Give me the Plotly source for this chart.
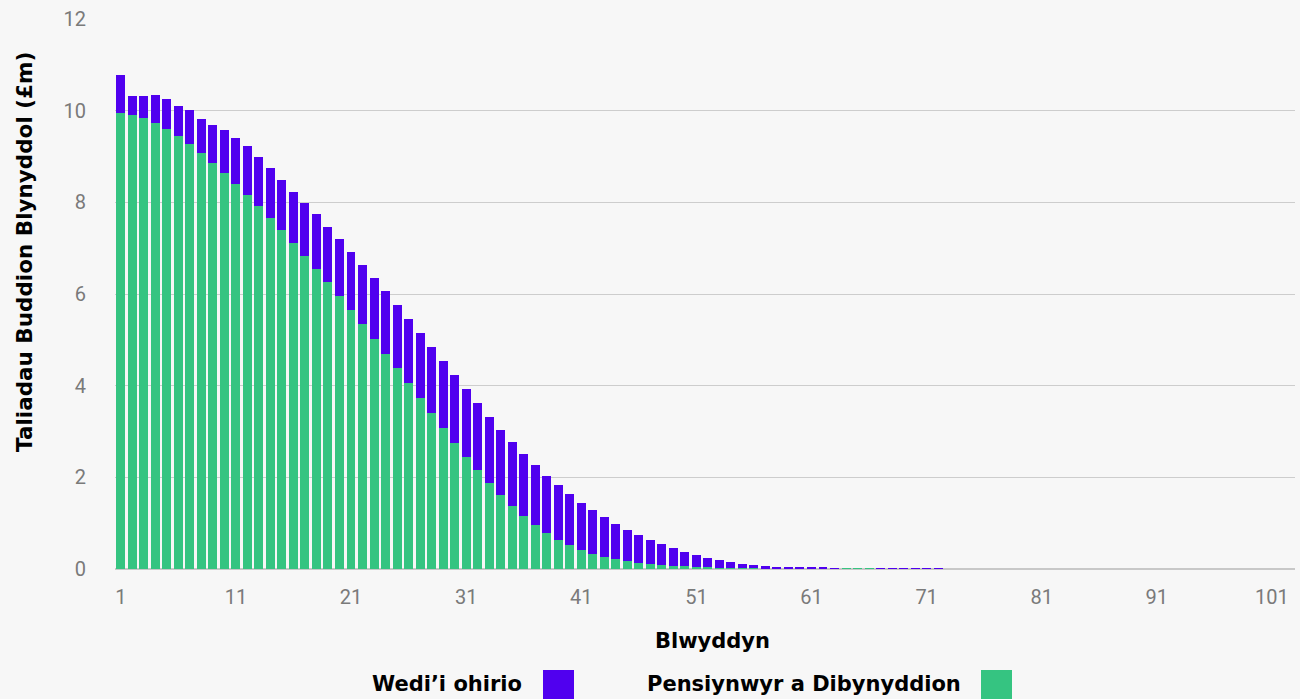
import plotly.graph_objects as go

years = list(range(1, 103))

pensioners = [
    9.96, 9.91, 9.84, 9.73, 9.60, 9.45, 9.27, 9.08, 8.86, 8.64,
    8.40, 8.16, 7.92, 7.66, 7.40, 7.11, 6.83, 6.55, 6.26, 5.96,
    5.65, 5.35, 5.02, 4.69, 4.39, 4.06, 3.73, 3.40, 3.08, 2.75,
    2.44, 2.16, 1.88, 1.61, 1.37, 1.16, 0.96, 0.79, 0.63, 0.52,
    0.41, 0.33, 0.26, 0.22, 0.17, 0.13, 0.11, 0.09, 0.07, 0.06,
    0.04, 0.04, 0.03, 0.03, 0.02, 0.02, 0.01, 0.01, 0.01, 0.005,
    0.005, 0.005, 0.005, 0.01, 0.01, 0.01, 0.0, 0.0, 0.0, 0.0,
    0.0, 0.0,
] + [0.0] * 30

deferred = [
    0.82, 0.41, 0.48, 0.61, 0.66, 0.66, 0.75, 0.74, 0.83, 0.94,
    1.00, 1.07, 1.07, 1.09, 1.09, 1.12, 1.16, 1.20, 1.20, 1.24,
    1.27, 1.28, 1.33, 1.38, 1.37, 1.39, 1.42, 1.44, 1.46, 1.48,
    1.49, 1.46, 1.44, 1.42, 1.40, 1.35, 1.31, 1.24, 1.20, 1.12,
    1.03, 0.96, 0.87, 0.76, 0.68, 0.61, 0.52, 0.46, 0.39, 0.31,
    0.27, 0.20, 0.17, 0.12, 0.09, 0.07, 0.06, 0.04, 0.04, 0.025,
    0.025, 0.025, 0.015, 0.0, 0.0, 0.0, 0.01, 0.01, 0.01, 0.01,
    0.01, 0.01,
] + [0.0] * 30

x_ticks = [1, 11, 21, 31, 41, 51, 61, 71, 81, 91, 101]
y_ticks = [0, 2, 4, 6, 8, 10, 12]

name_deferred = "Wedi’i ohirio"
name_pensioners = "Pensiynwyr a Dibynyddion"
x_title = "Blwyddyn"
y_title = "Taliadau Buddion Blynyddol (£m)"

GREEN = "#35C481"
PURPLE = "#5000EF"
BG = "#F7F7F7"
BOLD_FONT = "DejaVu Sans"
TICK_FONT = "Roboto, sans-serif"
TICK_COLOR = "#7a7a7a"

W, H = 1300, 699
L, R, T, B = 115, 5, 19, 130
PW, PH = W - L - R, H - T - B


def px_x(x):
    return (x - L) / PW


def px_y(y):
    return (H - B - y) / PH


fig = go.Figure()
fig.add_trace(go.Bar(x=years, y=pensioners, name=name_pensioners,
                     marker=dict(color=GREEN, line=dict(width=0))))
fig.add_trace(go.Bar(x=years, y=deferred, name=name_deferred,
                     marker=dict(color=PURPLE, line=dict(width=0))))

fig.update_layout(
    barmode="stack",
    bargap=0.22,
    width=W, height=H,
    margin=dict(l=L, r=R, t=T, b=B),
    paper_bgcolor=BG, plot_bgcolor=BG,
    showlegend=False,
    font=dict(family=TICK_FONT, color="#000000"),
    xaxis=dict(
        range=[0.5, 103.0], tickmode="array", tickvals=x_ticks,
        ticktext=[str(v) for v in x_ticks],
        tickfont=dict(size=20, color=TICK_COLOR, family=TICK_FONT),
        showgrid=False, zeroline=False, showline=False, ticks="",
        ticklabelstandoff=14,
    ),
    yaxis=dict(
        range=[0, 12], tickmode="array", tickvals=y_ticks,
        tickfont=dict(size=20, color=TICK_COLOR, family=TICK_FONT),
        showgrid=True, gridcolor="#CDCDCD", gridwidth=1.3,
        zeroline=True, zerolinecolor="#C8C8C8", zerolinewidth=2,
        showline=False, ticks="", ticklabelstandoff=28,
    ),
)

bold = dict(size=21, color="#000000", family=BOLD_FONT, weight="bold")

# axis titles
fig.add_annotation(
    text=x_title, xref="paper", yref="paper",
    x=px_x(712), xanchor="center", y=px_y(641), yanchor="middle",
    showarrow=False, font=bold,
)
fig.add_annotation(
    text=y_title, textangle=-90, xref="paper", yref="paper",
    x=px_x(25), xanchor="center", y=px_y(252), yanchor="middle",
    showarrow=False, font=dict(size=21.5, color="#000000", family=BOLD_FONT, weight="bold"),
)

# legend (text then swatch)
legend_items = [(name_deferred, PURPLE, 524, 543), (name_pensioners, GREEN, 963, 981)]
for label, col, text_right, sq_left in legend_items:
    fig.add_annotation(
        text=label, xref="paper", yref="paper",
        x=px_x(text_right), xanchor="right",
        y=px_y(684), yanchor="middle", showarrow=False,
        font=bold,
    )
    fig.add_shape(
        type="rect", xref="paper", yref="paper",
        x0=px_x(sq_left), x1=px_x(sq_left + 31),
        y0=px_y(705), y1=px_y(670),
        fillcolor=col, line=dict(width=0),
    )

fig.write_html(
    "out.html",
    config={"displayModeBar": False},
    post_script="document.body.style.margin='0';document.body.style.padding='0';"
                "document.body.style.overflow='hidden';",
)
